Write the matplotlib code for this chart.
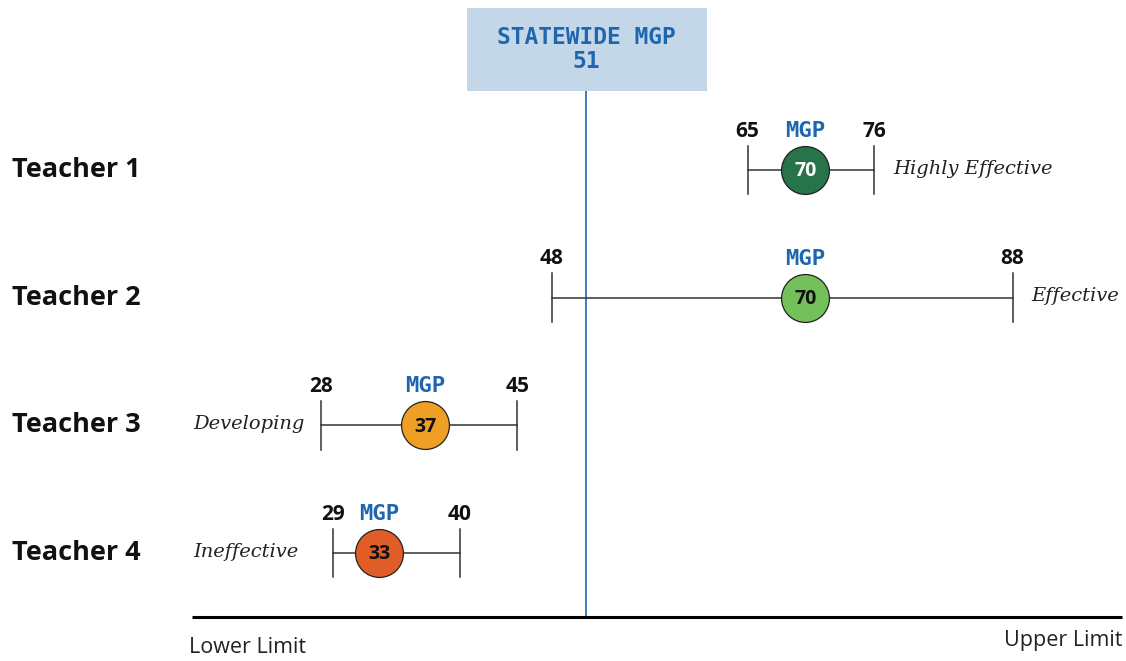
import numpy as np
import matplotlib.pyplot as plt

# dados
professores = ["Teacher 1", "Teacher 2", "Teacher 3", "Teacher 4"]
mgp = [70, 70, 37, 33]
limite_inf = [65, 48, 28, 29]
limite_sup = [76, 88, 45, 40]
categorias = ["Highly Effective", "Effective", "Developing", "Ineffective"]
lado_rotulo = ["right", "right", "left", "left"]
cores = ["#27734a", "#74c05a", "#f09f26", "#e05d27"]
cor_num = ["white", "#111111", "#111111", "#111111"]
mgp_estadual = 51

azul = "#1f66b0"
sans = ["Open Sans", "DejaVu Sans"]
mono = ["DejaVu Sans Mono"]
serif = ["DejaVu Serif"]

escala = 11.52  # px por ponto de MGP
x0 = 0.1


def px(p):
    # posição horizontal em pixels -> unidades de dados
    return p / escala + x0


fig = plt.figure(figsize=(11.26, 6.61), dpi=100)
ax = fig.add_axes([0, 0, 1, 1])
ax.set_xlim(px(0), px(1126))
ax.set_ylim(3.845, -1.331)
ax.axis("off")

eixo_ini, eixo_fim = px(192), px(1122)
base = 3.50

# linha de base
ax.plot([eixo_ini, eixo_fim], [base, base], color="black", lw=2.2, solid_capstyle="butt")
ax.text(px(189), base + 0.24, "Lower Limit", ha="left", va="center",
        fontsize=15.5, family=sans, color="#222222")
ax.text(eixo_fim, base + 0.185, "Upper Limit", ha="right", va="center",
        fontsize=15.5, family=sans, color="#222222")

# linha estadual + caixa
ax.plot([mgp_estadual, mgp_estadual], [-0.62, base], color=azul, lw=1.2, zorder=1)
ax.add_patch(plt.Rectangle((px(467), -1.269), 240 / escala, 0.65,
                           facecolor="#c4d7e8", edgecolor="none", zorder=2))
ax.text(mgp_estadual, -1.041, "STATEWIDE MGP", ha="center", va="center",
        fontsize=16.5, family=mono, fontweight="bold", color=azul, zorder=3)
ax.text(mgp_estadual, -0.846, str(mgp_estadual), ha="center", va="center",
        fontsize=16.5, family=mono, fontweight="bold", color=azul, zorder=3)

h = 0.19
for i, nome in enumerate(professores):
    lo, hi, m = limite_inf[i], limite_sup[i], mgp[i]
    ax.text(px(76), i, nome, ha="center", va="center", fontsize=19.5,
            family=sans, fontweight="bold", color="#111111")
    ax.plot([lo, hi], [i, i], color="#333333", lw=1.1, zorder=2)
    ax.plot([lo, lo], [i - h, i + h], color="#333333", lw=1.1, zorder=2)
    ax.plot([hi, hi], [i - h, i + h], color="#333333", lw=1.1, zorder=2)
    ax.scatter([m], [i], s=1190, color=cores[i], edgecolor="#222222",
               linewidth=0.9, zorder=4)
    ax.text(m, i + 0.01, str(m), ha="center", va="center", fontsize=14,
            family=sans, fontweight="bold", color=cor_num[i], zorder=5)
    ax.text(lo, i - 0.305, str(lo), ha="center", va="center", fontsize=15,
            family=sans, fontweight="bold", color="#111111")
    ax.text(hi, i - 0.305, str(hi), ha="center", va="center", fontsize=15,
            family=sans, fontweight="bold", color="#111111")
    ax.text(m, i - 0.305, "MGP", ha="center", va="center", fontsize=16,
            family=mono, fontweight="bold", color=azul)
    if lado_rotulo[i] == "right":
        ax.text(hi + 1.6, i - 0.01, categorias[i], ha="left", va="center",
                fontsize=14, family=serif, style="italic", color="#222222")
    else:
        ax.text(px(193), i - 0.01, categorias[i], ha="left", va="center",
                fontsize=14, family=serif, style="italic", color="#222222")

fig.savefig("out.png", dpi=100)
